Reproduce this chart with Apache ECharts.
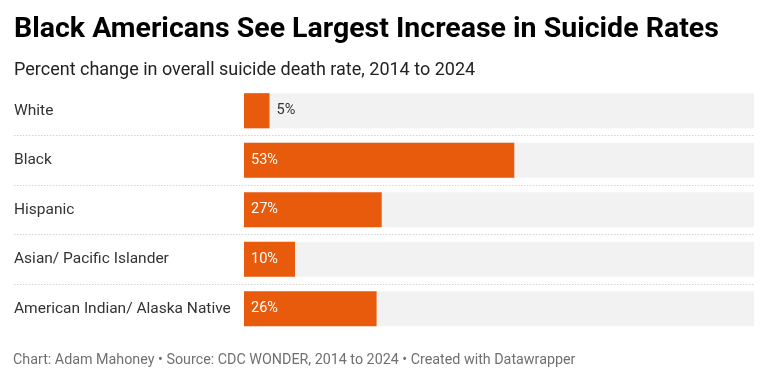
<!DOCTYPE html>
<html>
<head>
<meta charset="utf-8">
<script src="https://cdn.jsdelivr.net/npm/echarts@6/dist/echarts.min.js"></script>
<style>
  html, body { margin: 0; padding: 0; background: #fff; }
  #main { width: 768px; height: 381px; }
</style>
</head>
<body>
<div id="main"></div>
<script>
var chart = echarts.init(document.getElementById('main'));

var categories = ['White', 'Black', 'Hispanic', 'Asian/ Pacific Islander', 'American Indian/ Alaska Native'];
var values = [5, 53, 27, 10, 26];
// bars too short to hold their label put it outside
var outsideLabel = [true, false, false, false, false];

var barData = values.map(function (v, i) {
    var item = { value: v };
    if (outsideLabel[i]) {
        item.label = { position: 'right', color: '#333333' };
    }
    return item;
});

var option = {
    backgroundColor: '#ffffff',
    textStyle: { fontFamily: 'Roboto' },
    title: [
        {
            text: 'Black Americans See Largest Increase in Suicide Rates',
            left: 14, top: 15, padding: 0,
            textStyle: { fontFamily: 'Roboto', fontSize: 28.5, fontWeight: 'bold', color: '#000000' }
        },
        {
            text: 'Percent change in overall suicide death rate, 2014 to 2024',
            left: 14, top: 61, padding: 0,
            textStyle: { fontFamily: 'Roboto', fontSize: 18, fontWeight: 'normal', color: '#222222' }
        },
        {
            text: 'Chart: Adam Mahoney • Source: CDC WONDER, 2014 to 2024 • Created with Datawrapper',
            left: 13, top: 353, padding: 0,
            textStyle: { fontFamily: 'Roboto', fontSize: 14.3, fontWeight: 'normal', color: '#707070' }
        }
    ],
    grid: [
        // full-width grid: row labels and dotted separators
        { left: 14, right: 14, top: 86, height: 247.5 },
        // bar area
        { left: 244, right: 14, top: 86, height: 247.5 }
    ],
    xAxis: [
        { gridIndex: 0, type: 'value', min: 0, max: 100, show: false },
        { gridIndex: 1, type: 'value', min: 0, max: 100, show: false }
    ],
    yAxis: [
        {
            gridIndex: 0, type: 'category', data: categories, inverse: true,
            axisLine: { show: false }, axisTick: { show: false },
            axisLabel: {
                inside: true, margin: 0, align: 'left',
                fontFamily: 'Roboto', fontSize: 15.5, color: '#333333'
            },
            splitLine: {
                show: true,
                lineStyle: {
                    type: [1.5, 1.5],
                    width: 1,
                    color: ['rgba(0,0,0,0)', '#d4d4d4', '#d4d4d4', '#d4d4d4', '#d4d4d4', 'rgba(0,0,0,0)']
                }
            }
        },
        {
            gridIndex: 1, type: 'category', data: categories, inverse: true,
            show: false
        }
    ],
    series: [
        {
            type: 'bar',
            xAxisIndex: 1, yAxisIndex: 1,
            data: barData,
            barCategoryGap: '29%',
            itemStyle: { color: '#e85b0d' },
            showBackground: true,
            backgroundStyle: { color: '#f2f2f2' },
            label: {
                show: true,
                position: 'insideLeft',
                distance: 7,
                formatter: '{c}%',
                fontFamily: 'Roboto', fontSize: 14.5, color: '#ffffff'
            },
            silent: true
        }
    ]
};

chart.setOption(option);
</script>
</body>
</html>
